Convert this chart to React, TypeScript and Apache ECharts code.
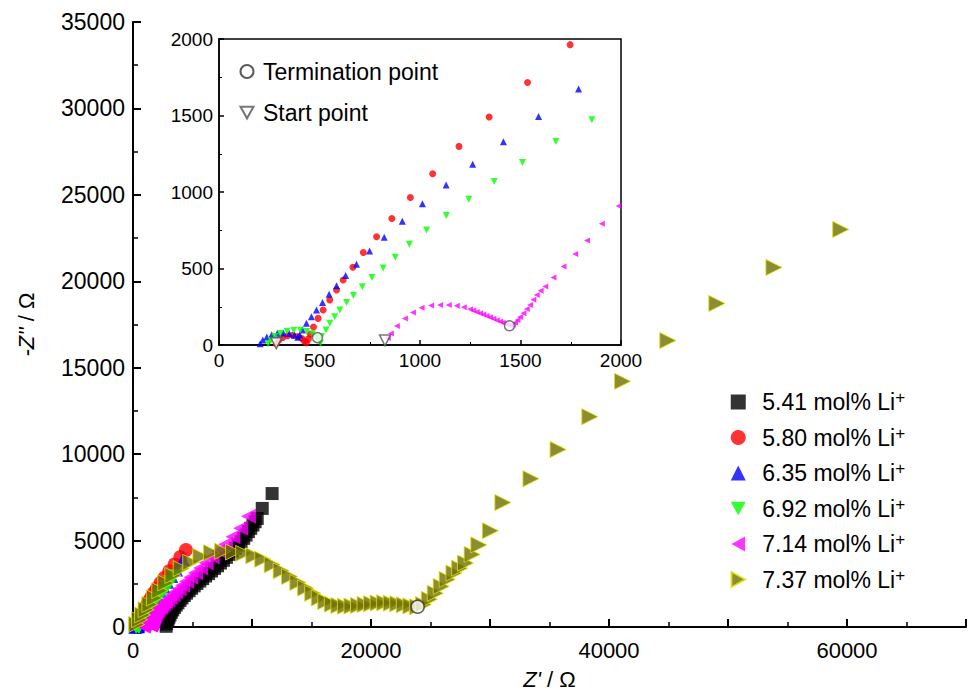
import React, { useEffect, useRef } from "react";
import * as echarts from "echarts";

// Nyquist data, Z' (Ω) vs -Z'' (Ω)
const SERIES_NAMES = [
  "5.41 mol% Li+",
  "5.80 mol% Li+",
  "6.35 mol% Li+",
  "6.92 mol% Li+",
  "7.14 mol% Li+",
  "7.37 mol% Li+",
];

const li541: [number, number][] = [
  [2780, 40], [2820, 180], [2880, 320], [2950, 450], [3020, 570], [3110, 700], [3220, 850],
  [3340, 990], [3480, 1130], [3630, 1270], [3780, 1400], [3950, 1540], [4120, 1680],
  [4310, 1820], [4500, 1960], [4710, 2100], [4920, 2240], [5140, 2380], [5370, 2520],
  [5610, 2660], [5850, 2800], [6100, 2950], [6350, 3090], [6600, 3240], [6850, 3390],
  [7100, 3540], [7350, 3700], [7600, 3860], [7850, 4030], [8100, 4200], [8350, 4380],
  [8600, 4560], [8850, 4750], [9080, 4940], [9300, 5130], [9500, 5320], [9700, 5520],
  [9890, 5710], [10080, 5900], [10260, 6090], [10440, 6280], [10860, 6860], [11690, 7720],
];

const li580: [number, number][] = [
  [285, 8], [298, 32], [318, 50], [342, 60], [368, 63], [392, 56], [412, 42], [425, 25],
  [435, 15], [445, 40], [455, 70], [470, 118], [493, 174], [518, 229], [551, 294],
  [585, 360], [618, 425], [666, 508], [718, 604], [784, 707], [860, 827], [952, 964],
  [1063, 1119], [1194, 1298], [1344, 1490], [1535, 1716], [1747, 1963],
  [2000, 2230], [2300, 2530], [2650, 2850], [3050, 3220], [3500, 3620], [3980, 4050], [4450, 4450],
];

const li635: [number, number][] = [
  [205, 8], [218, 32], [238, 52], [262, 67], [290, 76], [320, 79], [350, 75], [375, 65],
  [392, 50], [402, 65], [415, 98], [435, 142], [460, 185], [485, 229], [515, 277],
  [548, 332], [585, 388], [630, 454], [684, 528], [749, 615], [822, 704], [912, 809],
  [1012, 923], [1130, 1045], [1262, 1182], [1415, 1328], [1590, 1494], [1789, 1673],
  [2010, 1870], [2260, 2090], [2540, 2340], [2860, 2620], [3220, 2950], [3620, 3330], [4200, 3900],
];

const li692: [number, number][] = [
  [245, 8], [258, 30], [278, 55], [305, 75], [338, 90], [372, 97], [405, 96], [437, 88],
  [465, 72], [485, 50], [497, 28], [505, 12], [510, 55], [532, 98], [551, 142], [576, 185],
  [601, 229], [635, 277], [669, 323], [713, 380], [761, 441], [817, 504], [877, 574],
  [947, 659], [1033, 752], [1131, 846], [1243, 953], [1369, 1069], [1510, 1193],
  [1676, 1330], [1855, 1472],
  [2060, 1650], [2290, 1850], [2540, 2070], [2820, 2320], [3120, 2600], [3450, 2950],
];

const li714: [number, number][] = [
  [840, 45], [855, 75], [885, 125], [925, 174], [965, 212], [1008, 244], [1055, 258],
  [1100, 262], [1143, 262], [1183, 257], [1218, 246], [1249, 233], [1265, 226], [1282, 216],
  [1299, 207], [1315, 199], [1332, 190], [1349, 181], [1365, 172], [1382, 162], [1399, 153],
  [1412, 146], [1426, 138], [1440, 131], [1452, 127], [1462, 133], [1473, 146], [1485, 163],
  [1498, 183], [1515, 207], [1531, 235], [1548, 262], [1564, 295], [1581, 327], [1600, 355],
  [1623, 382], [1664, 441], [1714, 513], [1772, 595], [1831, 683], [1905, 792], [1988, 909],
  [2080, 1000], [2190, 1080], [2310, 1160], [2440, 1250], [2590, 1350], [2750, 1460],
  [2930, 1580], [3130, 1720], [3350, 1870], [3600, 2040], [3870, 2220], [4170, 2420],
  [4500, 2640], [4860, 2880], [5250, 3140], [5680, 3420], [6150, 3720], [6660, 4050],
  [7200, 4400], [7780, 4790], [8400, 5220], [9050, 5720], [9700, 6400],
];

const li737: [number, number][] = [
  [300, 150], [550, 420], [800, 700], [1100, 1000], [1420, 1300], [1800, 1680],
  [2250, 2100], [2750, 2550], [3350, 2980], [4050, 3380], [4850, 3750], [5700, 4080],
  [6600, 4300], [7530, 4380], [8450, 4340], [9300, 4260], [10150, 4120], [10900, 3920],
  [11700, 3600], [12450, 3250], [13150, 2920], [13850, 2580], [14500, 2250], [15100, 1950],
  [15650, 1680], [16200, 1470], [16750, 1320], [17300, 1240], [17850, 1200], [18400, 1210],
  [18950, 1250], [19500, 1300], [20050, 1350], [20600, 1390], [21150, 1400], [21700, 1380],
  [22250, 1340], [22800, 1280], [23350, 1220], [23920, 1170], [24400, 1300], [24900, 1600],
  [25400, 1950], [25900, 2350], [26400, 2750], [26970, 3120], [27450, 3400], [27940, 3700],
  [28500, 4200], [29060, 4750], [30030, 5570], [31080, 7200], [33440, 8580], [35720, 10270],
  [38390, 12170], [41140, 14210], [44940, 16570], [49060, 18720], [53860, 20800], [59470, 23000],
];

const terminationMain: [number, number][] = [[23920, 1170]];
const terminationInset: [number, number][] = [[490, 48], [1445, 126]];
const startInset: [number, number][] = [[826, 30], [285, 12]];

const MARK_NAMES = ["Termination point", "Start point"];

const FONT = 'Arial, "Liberation Sans", Helvetica, sans-serif';

const RIGHT_TRI = "path://M0,0L9,5L0,10Z";
const LEFT_TRI = "path://M9,0L0,5L9,10Z";
const DOWN_TRI = "path://M0,0L10,0L5,9Z";

const seriesStyles = [
  { symbol: "rect", size: 13, inset: 0, itemStyle: { color: "#000000" } },
  { symbol: "circle", size: 14, inset: 7, itemStyle: { color: "#ff0000" } },
  { symbol: "triangle", size: 14, inset: 7, itemStyle: { color: "#0000ff" } },
  { symbol: DOWN_TRI, size: 14, inset: 7, itemStyle: { color: "#00ff00" } },
  { symbol: LEFT_TRI, size: 15, inset: 6, itemStyle: { color: "#ff00ff" } },
  {
    symbol: RIGHT_TRI,
    size: 16,
    inset: 0,
    itemStyle: { color: "#6f6f00", borderColor: "#e0e000", borderWidth: 1 },
  },
];

const seriesData = [li541, li580, li635, li692, li714, li737];

const plain = (v: number) => String(v);

function mainAxisCommon() {
  return {
    type: "value" as const,
    splitLine: { show: false },
    axisLine: { onZero: false, lineStyle: { color: "#000", width: 2 } },
    axisTick: { inside: true, length: 8, lineStyle: { color: "#000", width: 2 } },
    minorTick: { show: true, splitNumber: 2, length: 5, lineStyle: { color: "#000", width: 1.5 } },
  };
}

function insetAxisCommon() {
  return {
    type: "value" as const,
    min: 0,
    max: 2000,
    interval: 500,
    splitLine: { show: false },
    axisLine: { onZero: false, lineStyle: { color: "#000", width: 1.5 } },
    axisTick: { inside: true, length: 5, lineStyle: { color: "#000", width: 1.5 } },
    minorTick: { show: true, splitNumber: 2, length: 3, lineStyle: { color: "#000", width: 1 } },
    axisLabel: { fontSize: 19, color: "#000", fontFamily: FONT, margin: 6, formatter: plain },
  };
}

export default function App() {
  const ref = useRef<HTMLDivElement>(null);

  useEffect(() => {
    if (!ref.current) return;
    const chart = echarts.init(ref.current, null, { renderer: "svg" });

    const mainSeries = seriesData.map((data, i) => ({
      name: SERIES_NAMES[i],
      type: "scatter",
      xAxisIndex: 0,
      yAxisIndex: 0,
      data,
      symbol: seriesStyles[i].symbol,
      symbolSize: seriesStyles[i].size,
      itemStyle: seriesStyles[i].itemStyle,
      z: 2 + i,
    }));

    // the inset only shows the four low-impedance spectra
    const insetSeries = [1, 2, 3, 4].map((i) => ({
      name: SERIES_NAMES[i],
      type: "scatter",
      xAxisIndex: 1,
      yAxisIndex: 1,
      data: seriesData[i],
      symbol: seriesStyles[i].symbol,
      symbolSize: seriesStyles[i].inset,
      itemStyle: seriesStyles[i].itemStyle,
      clip: true,
      z: 20 + i,
    }));

    const openMark = { color: "#ffffff", borderColor: "#555", borderWidth: 1.5 };

    const option = {
      animation: false,
      backgroundColor: "#ffffff",
      textStyle: { fontFamily: FONT },
      grid: [
        { left: 133, top: 22, width: 840, height: 609 },
        {
          left: 219,
          top: 39,
          width: 402,
          height: 306,
          show: true,
          backgroundColor: "#ffffff",
          borderColor: "#000",
          borderWidth: 1.5,
          z: 10,
        },
      ],
      xAxis: [
        {
          ...mainAxisCommon(),
          gridIndex: 0,
          min: 0,
          max: 70000,
          interval: 10000,
          axisLabel: {
            fontSize: 22,
            color: "#000",
            fontFamily: FONT,
            margin: 12,
            formatter: (v: number) => (v % 20000 === 0 ? String(v) : ""),
          },
          name: "{i|Z'}{n| / Ω}",
          nameLocation: "middle",
          nameGap: 41,
          nameTextStyle: {
            rich: {
              i: { fontSize: 22, fontStyle: "italic", color: "#000", fontFamily: FONT },
              n: { fontSize: 22, color: "#000", fontFamily: FONT },
            },
          },
        },
        { ...insetAxisCommon(), gridIndex: 1, z: 11 },
      ],
      yAxis: [
        {
          ...mainAxisCommon(),
          gridIndex: 0,
          min: 0,
          max: 35000,
          interval: 5000,
          axisLabel: { fontSize: 23, color: "#000", fontFamily: FONT, margin: 8, formatter: plain },
          name: "{i|-Z''}{n| / Ω}",
          nameLocation: "middle",
          nameGap: 96,
          nameTextStyle: {
            rich: {
              i: { fontSize: 22, fontStyle: "italic", color: "#000", fontFamily: FONT },
              n: { fontSize: 22, color: "#000", fontFamily: FONT },
            },
          },
        },
        { ...insetAxisCommon(), gridIndex: 1, z: 11 },
      ],
      legend: [
        {
          data: SERIES_NAMES,
          orient: "vertical",
          left: 730.5,
          top: 389,
          padding: 0,
          itemWidth: 15,
          itemHeight: 15,
          itemGap: 11,
          selectedMode: false,
          formatter: (name: string) =>
            name.endsWith("+") ? `{b|${name.slice(0, -1)}}{s|+}` : `{b|${name}}`,
          textStyle: {
            rich: {
              b: {
                fontSize: 23,
                lineHeight: 26,
                color: "#000",
                fontFamily: FONT,
                padding: [0, 0, 0, 11.5],
              },
              s: { fontSize: 17, lineHeight: 17, verticalAlign: "top", color: "#000", fontFamily: FONT },
            },
          },
        },
        {
          data: MARK_NAMES,
          orient: "vertical",
          left: 239.5,
          top: 60,
          padding: 0,
          itemWidth: 13,
          itemHeight: 13,
          itemGap: 18,
          selectedMode: false,
          z: 30,
          formatter: (name: string) => `{b|${name}}`,
          textStyle: {
            rich: {
              b: {
                fontSize: 23,
                lineHeight: 26,
                color: "#000",
                fontFamily: FONT,
                padding: [0, 0, 0, 4.5],
              },
            },
          },
        },
      ],
      series: [
        ...mainSeries,
        ...insetSeries,
        {
          name: MARK_NAMES[0],
          type: "scatter",
          xAxisIndex: 0,
          yAxisIndex: 0,
          data: terminationMain,
          symbol: "circle",
          symbolSize: 13,
          itemStyle: { color: "#ffffff", borderColor: "#333", borderWidth: 1.5 },
          z: 12,
        },
        {
          name: MARK_NAMES[0],
          type: "scatter",
          xAxisIndex: 1,
          yAxisIndex: 1,
          data: terminationInset,
          symbol: "circle",
          symbolSize: 10,
          itemStyle: openMark,
          z: 30,
        },
        {
          name: MARK_NAMES[1],
          type: "scatter",
          xAxisIndex: 1,
          yAxisIndex: 1,
          data: startInset,
          symbol: DOWN_TRI,
          symbolSize: 11,
          itemStyle: openMark,
          z: 30,
        },
      ],
    };

    chart.setOption(option as any);
    return () => chart.dispose();
  }, []);

  return (
    <div
      ref={ref}
      style={{ position: "fixed", left: 0, top: 0, width: 969, height: 695, background: "#fff" }}
    />
  );
}
